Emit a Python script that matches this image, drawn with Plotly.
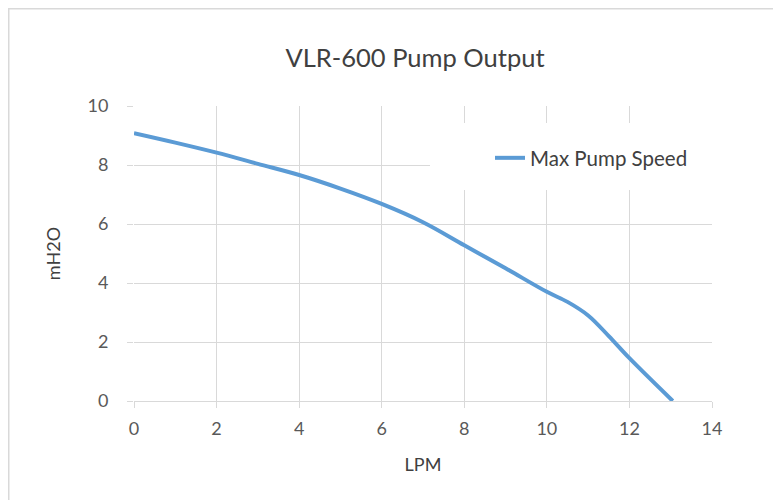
import plotly.graph_objects as go

# Data
lpm = [0, 1, 2, 3, 4, 5, 6, 7, 8, 9, 10, 10.5, 11, 11.5, 12, 13.05]
mh2o = [9.08, 8.76, 8.42, 8.04, 7.66, 7.2, 6.68, 6.06, 5.28, 4.5, 3.7, 3.36, 2.9, 2.2, 1.45, 0]
series_name = "Max Pump Speed"
x_ticks = [0, 2, 4, 6, 8, 10, 12, 14]
y_ticks = [0, 2, 4, 6, 8, 10]

W, H = 781, 500
OFF = 8  # page body margin in the browser
L, R, T, B = 134 - OFF, 712 - OFF, 106 - OFF, 401 - OFF

FONT = "Lato, Carlito, Calibri, sans-serif"
GREY = "#595959"
DARK = "#404040"
GRID = "#d9d9d9"

fig = go.Figure()
fig.add_trace(go.Scatter(
    x=lpm, y=mh2o, mode="lines", name=series_name,
    line=dict(color="#5B9BD5", width=4, shape="spline", smoothing=1),
))

def px2paper_x(px):
    return (px - OFF - L) / (R - L)

def px2paper_y(py):
    return (B - (py - OFF)) / (B - T)

fig.update_layout(
    width=W, height=H,
    margin=dict(l=L, r=W - R, t=T, b=H - B),
    paper_bgcolor="white", plot_bgcolor="white",
    font=dict(family=FONT, color=GREY, size=18),
    title=dict(text="VLR-600 Pump Output", x=(415 - OFF) / W, xanchor="center",
               y=1 - (58 - OFF) / H, yanchor="middle",
               font=dict(family=FONT, size=25.5, color=DARK)),
    showlegend=True,
    legend=dict(x=px2paper_x(490), y=px2paper_y(158), xanchor="left", yanchor="middle",
                bgcolor="rgba(0,0,0,0)", font=dict(family=FONT, size=20.5, color=DARK)),
    xaxis=dict(range=[0, 14], tickvals=x_ticks, showgrid=True, gridcolor=GRID, gridwidth=1,
               zeroline=False, showline=True, linecolor=GRID, linewidth=1,
               ticks="outside", ticklen=6, tickcolor=GRID, ticklabelstandoff=5,
               title=dict(text="LPM", font=dict(size=18, color=DARK), standoff=20),
               tickfont=dict(size=18, color=GREY)),
    yaxis=dict(range=[0, 10], tickvals=y_ticks, showgrid=True, gridcolor=GRID, gridwidth=1,
               zeroline=False, showline=False,
               ticks="outside", ticklen=6, tickcolor=GRID, ticklabelstandoff=15,
               title=dict(text="mH2O", font=dict(size=18, color=DARK), standoff=22),
               tickfont=dict(size=18, color=GREY)),
    shapes=[
        # legend background patch hiding gridlines
        dict(type="rect", xref="x", yref="y", x0=7.17, x1=14.05, y0=7.15, y1=9.42,
             fillcolor="white", line=dict(width=0), layer="between"),
        # chart outer border
        dict(type="rect", xref="paper", yref="paper",
             x0=px2paper_x(OFF + 0.75), x1=px2paper_x(900), y0=px2paper_y(700),
             y1=px2paper_y(OFF + 0.75),
             line=dict(color=GRID, width=1.5), fillcolor="rgba(0,0,0,0)", layer="below"),
    ],
)

fig.write_html("out.html")
